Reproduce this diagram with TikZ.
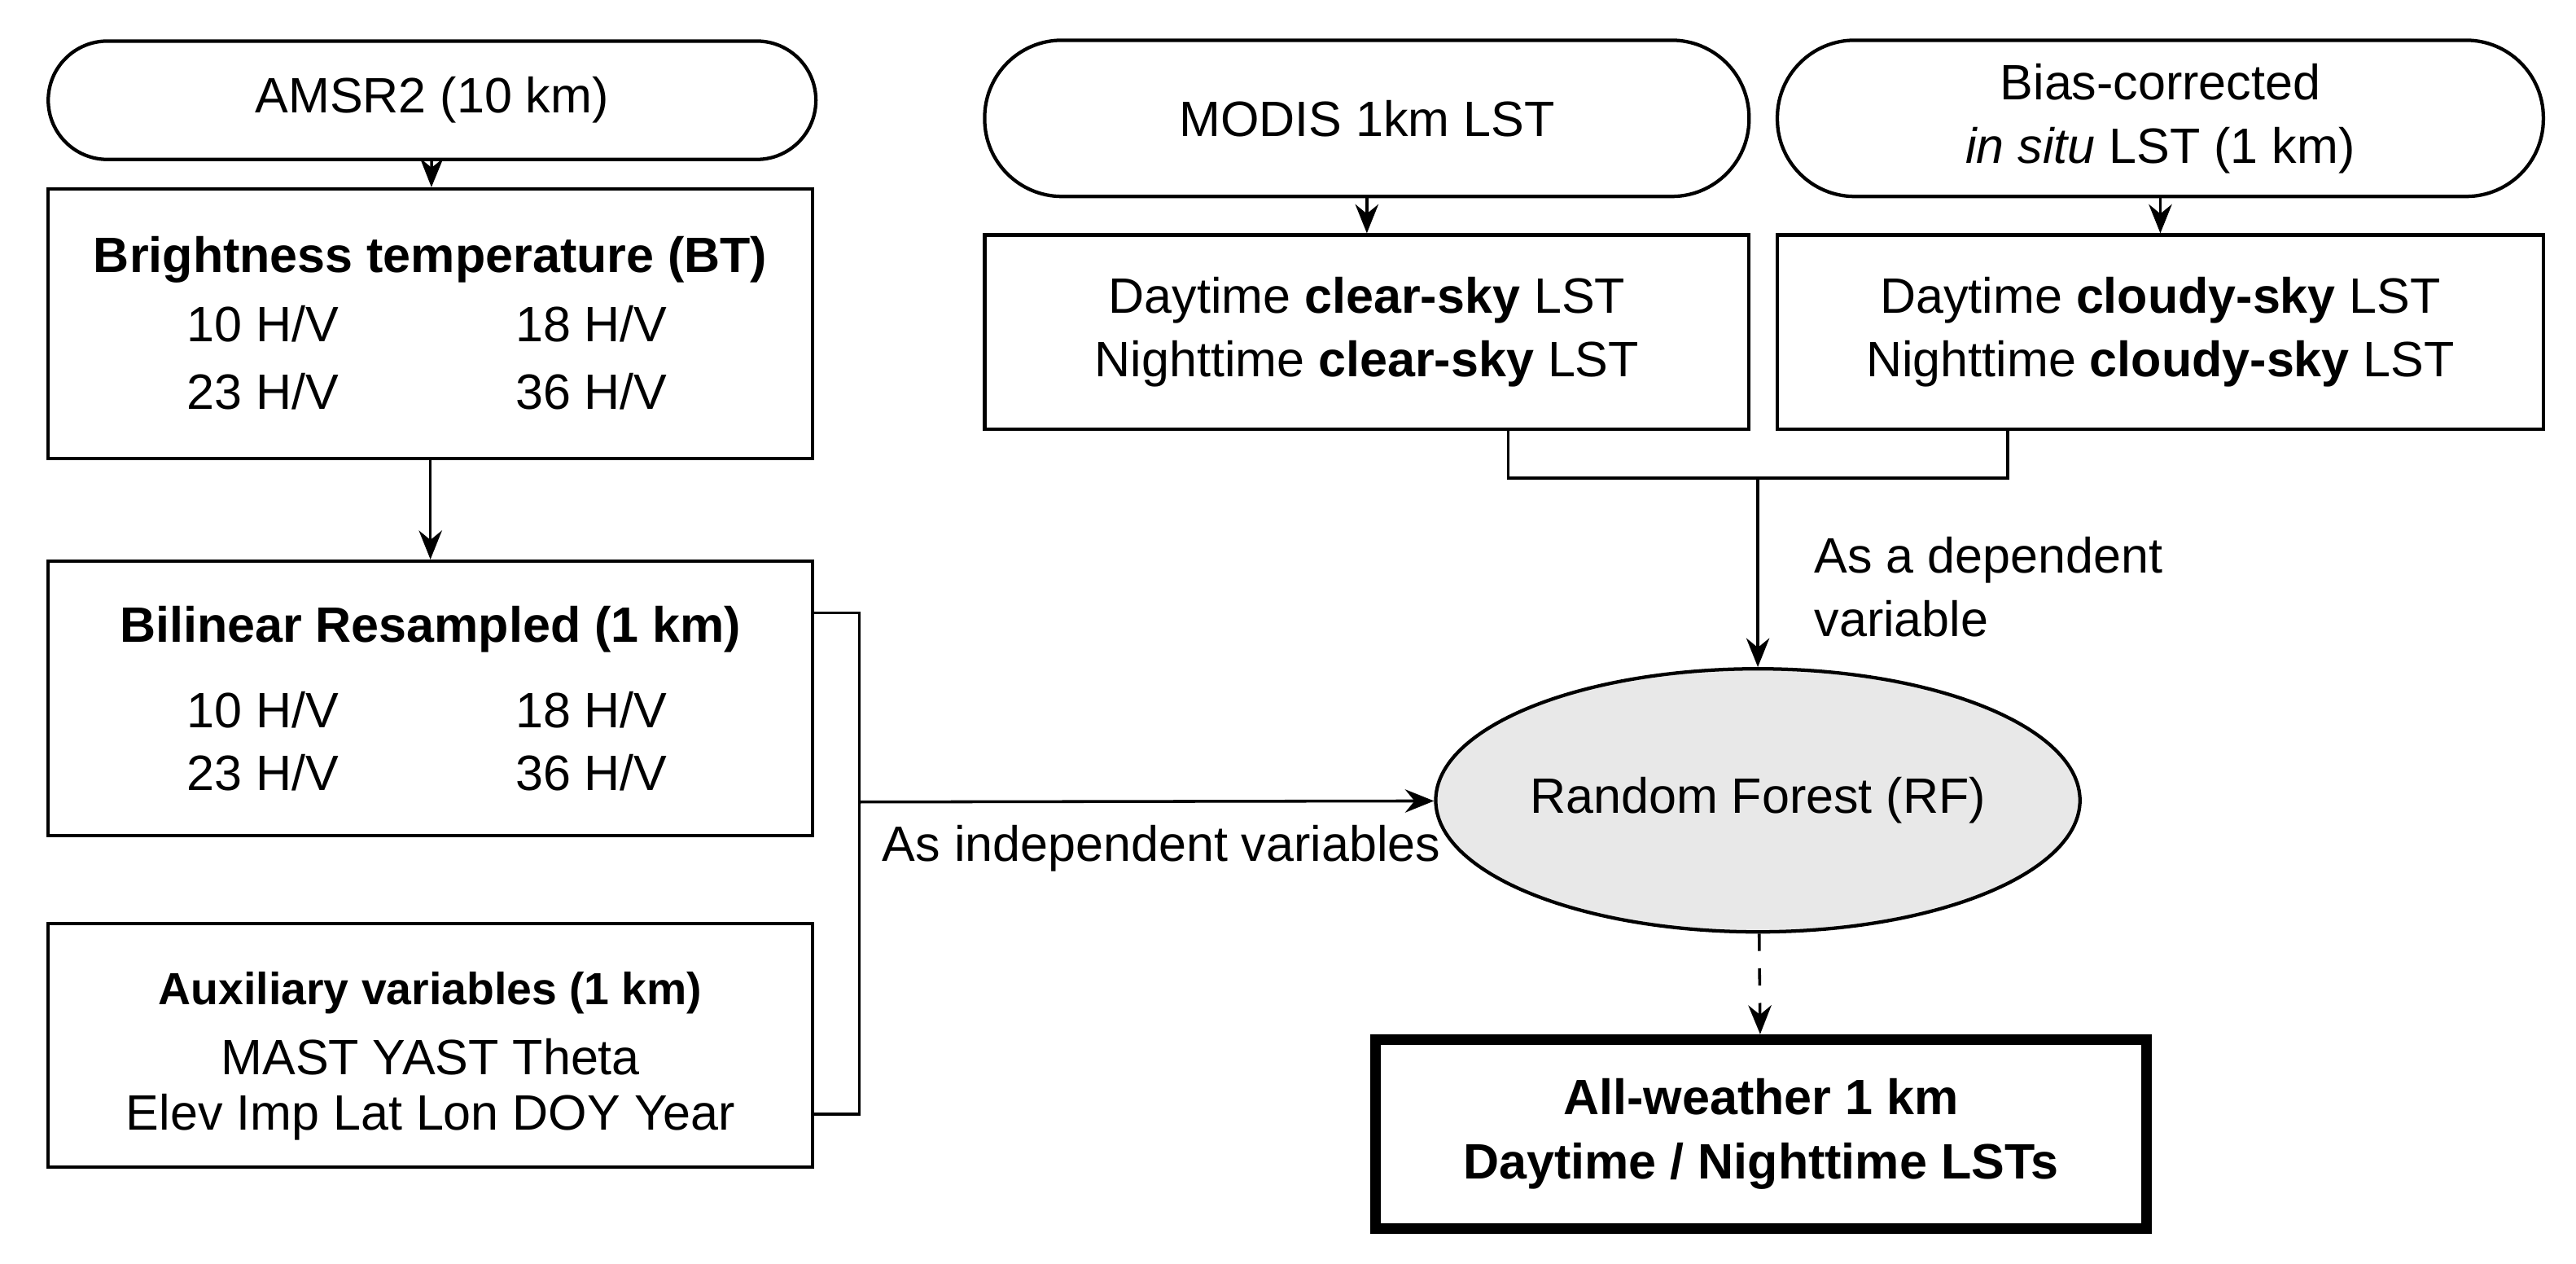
\documentclass[tikz,border=0pt]{standalone}
\usepackage{fontspec}
\setmainfont{Liberation Sans}
\usetikzlibrary{arrows.meta,shapes.geometric}
\tikzset{
  box/.style={draw=black,line width=0.6pt,align=center,inner sep=0pt},
  pill/.style={draw=black,line width=0.6pt,rounded corners=0.36cm,align=center,inner sep=0pt},
  conn/.style={line width=0.5pt,-{Stealth[length=5pt,width=4pt]}},
  txt/.style={font=\fontsize{8.6}{11}\selectfont}
}
\begin{document}
\begin{tikzpicture}[x=0.01cm,y=-0.01cm,txt]
    \useasboundingbox (0,0) rectangle (1568,769);
    % left column
    \node[pill,minimum width=4.67cm,minimum height=0.72cm] (amsr) at (263,61) {AMSR2 (10 km)};
    \node[box,minimum width=4.65cm,minimum height=1.64cm] (bt) at (262,197) {};
    \node[font=\fontsize{8.6}{11}\bfseries] at (262,158) {Brightness temperature (BT)};
    \node at (160,197) {10 H/V}; \node at (360,197) {18 H/V};
    \node at (160,238) {23 H/V}; \node at (360,238) {36 H/V};
    \node[box,minimum width=4.65cm,minimum height=1.67cm] (bil) at (262,425) {};
    \node[font=\fontsize{8.6}{11}\bfseries] at (262,383) {Bilinear Resampled (1 km)};
    \node at (160,432) {10 H/V}; \node at (360,432) {18 H/V};
    \node at (160,470) {23 H/V}; \node at (360,470) {36 H/V};
    \node[box,minimum width=4.65cm,minimum height=1.48cm] (aux) at (262,636) {};
    \node[font=\fontsize{7.8}{10}\bfseries] at (262,604) {Auxiliary variables (1 km)};
    \node at (262,643) {MAST YAST Theta};
    \node at (262,680) {Elev Imp Lat Lon DOY Year};
    % right column
    \node[pill,minimum width=4.65cm,minimum height=0.95cm,rounded corners=0.47cm] (modis) at (832,72) {MODIS 1km LST};
    \node[pill,minimum width=4.66cm,minimum height=0.95cm,rounded corners=0.47cm] (bias) at (1315,72) {Bias-corrected\\\textit{in situ} LST (1 km)};
    \node[box,minimum width=4.65cm,minimum height=1.18cm] (clear) at (832,202) {Daytime \textbf{clear-sky} LST\\Nighttime \textbf{clear-sky} LST};
    \node[box,minimum width=4.66cm,minimum height=1.18cm] (cloudy) at (1315,202) {Daytime \textbf{cloudy-sky} LST\\Nighttime \textbf{cloudy-sky} LST};
    \node[draw=black,line width=0.6pt,ellipse,inner sep=0pt,fill=gray!18,minimum width=3.4cm,minimum height=1.6cm] (rf) at (1070,487) {Random Forest (RF)};
    \node[box,line width=1.8pt,minimum width=4.69cm,minimum height=1.15cm,font=\fontsize{8.6}{11}\bfseries] (out) at (1072,690) {All-weather 1 km\\Daytime / Nighttime LSTs};
    \node (indep) at (707,516) {As independent variables};
    \node[align=left,anchor=west] (dep) at (1092,357) {As a dependent\\variable};
    \coordinate (lb) at (523,488);
    \coordinate (rb) at (1070,291);

    \draw[conn] (amsr) -- (bt);
    \draw[conn] (bt) -- (bil);
    \draw[conn] (modis) -- (clear);
    \draw[conn] (bias) -- (cloudy);
    \draw[line width=0.5pt] (495,373) -- (523,373) -- (523,678) -- (495,678);
    \draw[conn] (lb) -- (rf);
    \draw[line width=0.5pt] (918,261) -- (918,291) -- (1222,291) -- (1222,261);
    \draw[conn] (rb) -- (rf);
    \draw[conn,dashed] (rf) -- (out);
\end{tikzpicture}
\end{document}
